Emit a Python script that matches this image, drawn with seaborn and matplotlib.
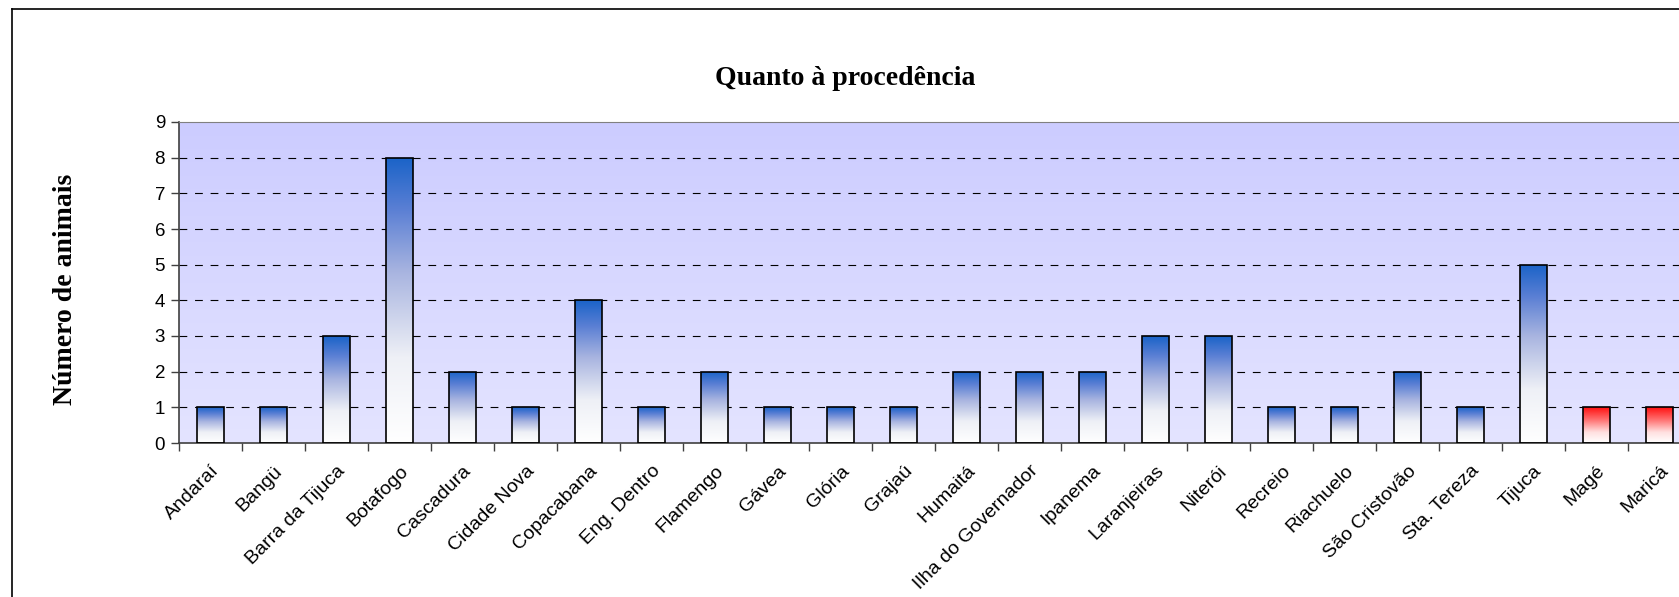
import numpy as np
import pandas as pd
import seaborn as sns
import matplotlib.pyplot as plt
from matplotlib.colors import LinearSegmentedColormap
from matplotlib.lines import Line2D

# Dados do gráfico
bairros = ["Andaraí", "Bangü", "Barra da Tijuca", "Botafogo", "Cascadura",
           "Cidade Nova", "Copacabana", "Eng. Dentro", "Flamengo", "Gávea",
           "Glória", "Grajaú", "Humaitá", "Ilha do Governador", "Ipanema",
           "Laranjeiras", "Niterói", "Recreio", "Riachuelo", "São Cristovão",
           "Sta. Tereza", "Tijuca", "Magé", "Maricá"]
animais = [1, 1, 3, 8, 2, 1, 4, 1, 2, 1, 1, 1, 2, 2, 2, 3, 3, 1, 1, 2, 1, 5, 1, 1]
grupo = ["Rio"] * 22 + ["Fora"] * 2
y_ticks = list(range(0, 10))

df = pd.DataFrame({"bairro": bairros, "n": animais, "grupo": grupo})

W, H = 1679, 597
fig = plt.figure(figsize=(W / 100, H / 100), dpi=100)
ax = fig.add_axes([179 / W, 1 - 443 / H, (1691 - 179) / W, (443 - 122) / H])

sns.barplot(data=df, x="bairro", y="n", ax=ax, width=0.42, color="white",
            edgecolor="black", linewidth=1.2, zorder=3)

# fundo em degradê
bg = LinearSegmentedColormap.from_list("bg", ["#e4e4ff", "#ccccff"])
grad = np.linspace(0, 1, 256).reshape(-1, 1)
ax.imshow(grad, cmap=bg, origin="lower", aspect="auto",
          extent=[-0.5, len(bairros) - 0.5, 0, 9], zorder=0)

# barras em degradê
azul = LinearSegmentedColormap.from_list(
    "azul", [(0, "#ffffff"), (0.3, "#eef0f6"), (0.6, "#a8b4e0"),
             (0.82, "#5a7fd4"), (1, "#1a63c8")])
verm = LinearSegmentedColormap.from_list(
    "verm", [(0, "#ffffff"), (0.3, "#ffe0e0"), (0.65, "#ff7070"),
             (1, "#ff1010")])
for bar, g in zip(ax.patches, grupo):
    x0, y0 = bar.get_x(), bar.get_y()
    w, h = bar.get_width(), bar.get_height()
    im = ax.imshow(grad, cmap=azul if g == "Rio" else verm, origin="lower",
                   aspect="auto", extent=[x0, x0 + w, y0, y0 + h], zorder=2)
    im.set_clip_path(bar)
    bar.set_facecolor("none")

ax.set_xlim(-0.5, len(bairros) - 0.5)
ax.set_ylim(0, 9)

# grade tracejada
for v in y_ticks[1:-1]:
    ax.axhline(v, color="black", lw=0.8, ls=(0, (7, 7)), zorder=1)

ax.set_yticks(y_ticks)
ax.set_yticklabels([str(v) for v in y_ticks], fontsize=13.5, family="Liberation Sans")
ax.tick_params(axis="y", length=6, width=1, pad=4, color="#404040")

ax.set_xticks(range(len(bairros)))
ax.set_xticklabels(bairros, rotation=45, ha="right", rotation_mode="anchor",
                   fontsize=14, family="Liberation Sans")
ax.tick_params(axis="x", which="major", length=0, pad=14)
ax.set_xticks(np.arange(-0.5, len(bairros), 1), minor=True)
ax.tick_params(axis="x", which="minor", length=6, width=1, color="#404040")

ax.set_xlabel("")
ax.set_ylabel("")
for s in ["left", "bottom"]:
    ax.spines[s].set_color("#404040")
    ax.spines[s].set_linewidth(1.2)
ax.spines["top"].set_color("#808080")
ax.spines["right"].set_visible(False)

fig.text(845 / W, 1 - 85 / H, "Quanto à procedência", ha="center", va="baseline",
         fontsize=20, fontweight="bold", family="Liberation Serif")
fig.text(65 / W, 1 - 289 / H, "Número de animais", ha="center", va="center",
         rotation=90, fontsize=20, fontweight="bold", family="Liberation Serif")

# moldura externa
fig.add_artist(Line2D([12 / W, 12 / W], [0, 1 - 8.5 / H], color="black", lw=1.2))
fig.add_artist(Line2D([12 / W, 1], [1 - 8.5 / H, 1 - 8.5 / H], color="black", lw=1.2))

fig.savefig("out.png", dpi=100, facecolor="white")
